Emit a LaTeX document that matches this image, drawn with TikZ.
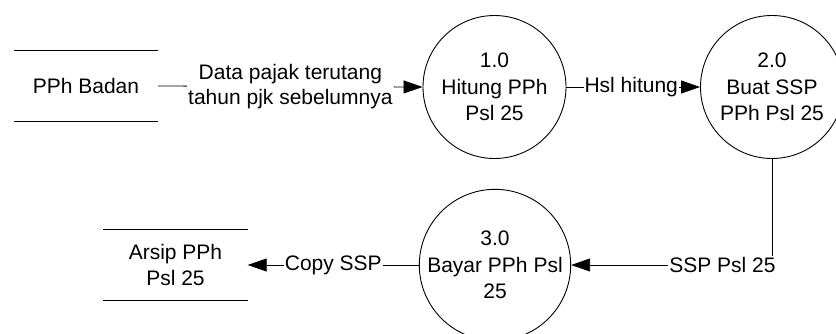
\documentclass[tikz,border=0pt]{standalone}
\usepackage{fontspec}
\setmainfont{Liberation Sans}
\usetikzlibrary{arrows.meta}
\begin{document}
\begin{tikzpicture}[x=1pt,y=-1pt,
  every node/.style={font=\fontsize{21}{25.5}\selectfont, inner sep=1pt},
  proc/.style={circle, draw, line width=0.9pt, minimum size=143pt, inner sep=0pt, align=center, font=\fontsize{21}{26.5}\selectfont},
  storebox/.style={minimum width=144pt, minimum height=71pt, align=center},
  storeline/.style={line width=0.9pt},
  flow/.style={line width=0.8pt, -{Triangle[length=19pt,width=13pt]}},
  lbl/.style={fill=white, align=center}]
\useasboundingbox (0,0) rectangle (836,333);
\node[storebox] (s1) at (86,86) {PPh Badan};
\draw[storeline] (s1.north west) -- (s1.north east);
\draw[storeline] (s1.south west) -- (s1.south east);
\node[proc] (p1) at (494.5,87) {1.0\\Hitung PPh\\Psl 25};
\node[proc] (p2) at (772,87) {2.0\\Buat SSP\\PPh Psl 25};
\node[proc] (p3) at (495,265) {3.0\\Bayar PPh Psl\\25};
\node[storebox] (s2) at (175.5,265) {Arsip PPh\\Psl 25};
\draw[storeline] (s2.north west) -- (s2.north east);
\draw[storeline] (s2.south west) -- (s2.south east);
\draw[flow] (s1.east) -- (p1.west) node[lbl, midway] {Data pajak terutang\\tahun pjk sebelumnya};
\draw[flow] (p1.east) -- (p2.west) node[lbl, midway, xshift=-2pt] {Hsl hitung};
\draw[flow] (p2.south) |- (p3.east) node[lbl, pos=0.5, anchor=east, xshift=5pt] {SSP Psl 25};
\draw[flow] (p3.west) -- (s2.east) node[lbl, midway] {Copy SSP};
\end{tikzpicture}
\end{document}
